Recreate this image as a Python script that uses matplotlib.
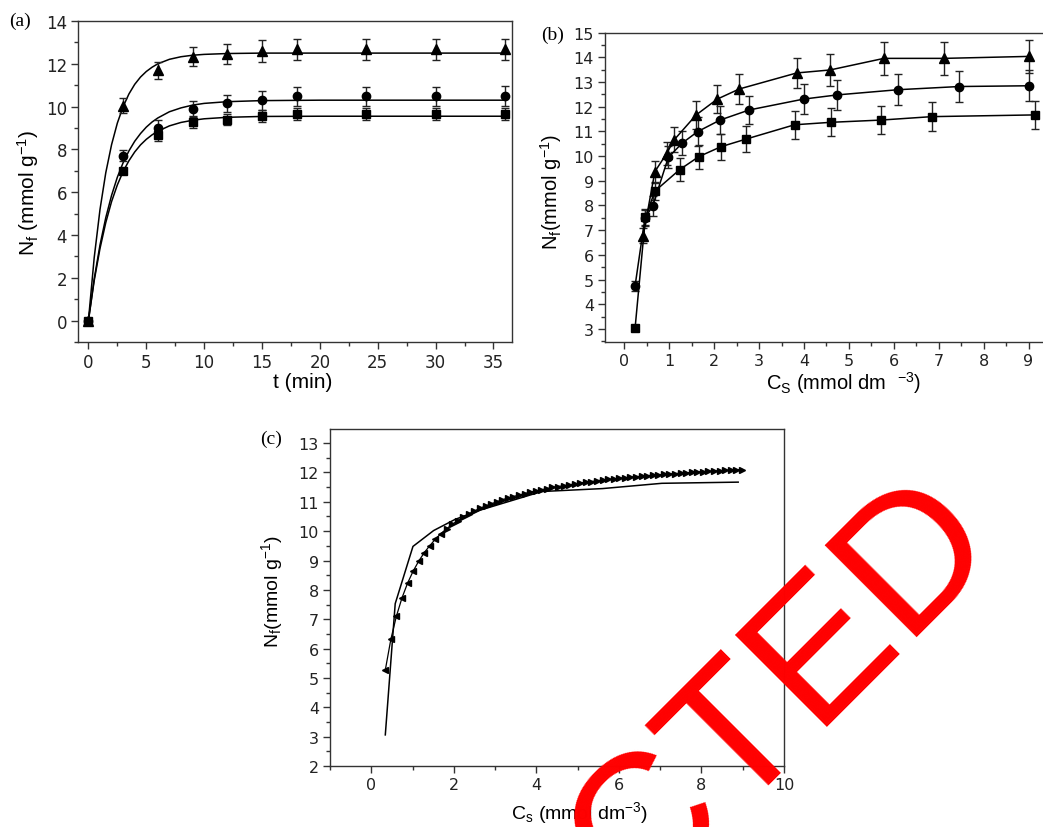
import matplotlib
matplotlib.use("Agg")
import matplotlib.pyplot as plt
from matplotlib.ticker import MultipleLocator

plt.rcParams['font.family'] = ['Liberation Sans', 'DejaVu Sans']
plt.rcParams['mathtext.fontset'] = 'custom'
plt.rcParams['mathtext.rm'] = 'Liberation Sans'
plt.rcParams['mathtext.it'] = 'Liberation Sans'
plt.rcParams['mathtext.default'] = 'regular'

# ---------------- Panel (a): kinetics ----------------
t_a = [0, 3, 6, 9, 12, 15, 18, 24, 30, 36]
tri_a = [0, 10.04, 11.70, 12.34, 12.45, 12.60, 12.68, 12.68, 12.68, 12.68]
cir_a = [0, 7.71, 9.00, 9.89, 10.15, 10.30, 10.48, 10.48, 10.48, 10.50]
sq_a = [0, 6.98, 8.65, 9.27, 9.39, 9.55, 9.65, 9.65, 9.65, 9.65]
tri_err_a = [0, 0.36, 0.40, 0.45, 0.47, 0.50, 0.48, 0.48, 0.49, 0.49]
cir_err_a = [0, 0.27, 0.39, 0.39, 0.41, 0.45, 0.45, 0.45, 0.45, 0.45]
sq_err_a = [0, 0.15, 0.24, 0.28, 0.27, 0.27, 0.27, 0.27, 0.27, 0.27]

t_fit = [0, 0.5, 1, 1.5, 2, 2.5, 3, 3.5, 4, 4.5, 5, 5.5, 6, 7, 8, 9, 10, 12, 15, 20, 36]
tri_fit = [0, 2.94, 5.19, 6.91, 8.22, 9.23, 10.00, 10.59, 11.04, 11.38, 11.64, 11.84,
           12.00, 12.21, 12.33, 12.40, 12.44, 12.48, 12.50, 12.50, 12.50]
cir_fit = [0, 1.95, 3.53, 4.81, 5.85, 6.70, 7.38, 7.93, 8.38, 8.74, 9.04, 9.28,
           9.47, 9.76, 9.94, 10.07, 10.15, 10.23, 10.28, 10.30, 10.30]
sq_fit = [0, 1.87, 3.37, 4.58, 5.56, 6.34, 6.97, 7.47, 7.88, 8.21, 8.47, 8.68,
          8.85, 9.10, 9.26, 9.36, 9.43, 9.50, 9.54, 9.55, 9.55]

# ---------------- Panel (b): isotherms ----------------
tri_b_x = [0.42, 0.68, 0.94, 1.11, 1.60, 2.07, 2.56, 3.84, 4.58, 5.78, 7.12, 9.01]
tri_b_y = [6.78, 9.37, 10.10, 10.66, 11.67, 12.31, 12.72, 13.37, 13.49, 13.96, 13.96, 14.04]
tri_b_err = [0.30, 0.42, 0.46, 0.50, 0.56, 0.57, 0.60, 0.62, 0.65, 0.68, 0.68, 0.68]
cir_b_x = [0.24, 0.46, 0.63, 0.98, 1.29, 1.63, 2.13, 2.78, 3.99, 4.74, 6.09, 7.46, 9.01]
cir_b_y = [4.75, 7.50, 7.97, 9.95, 10.53, 10.99, 11.46, 11.87, 12.31, 12.48, 12.69, 12.82, 12.85]
cir_b_err = [0.20, 0.30, 0.40, 0.45, 0.50, 0.58, 0.58, 0.58, 0.62, 0.62, 0.63, 0.63, 0.63]
sq_b_x = [0.24, 0.47, 0.68, 1.23, 1.66, 2.15, 2.71, 3.79, 4.60, 5.71, 6.85, 9.15]
sq_b_y = [3.04, 7.52, 8.58, 9.45, 9.98, 10.38, 10.69, 11.27, 11.37, 11.46, 11.60, 11.67]
sq_b_err = [0.10, 0.35, 0.35, 0.47, 0.49, 0.52, 0.54, 0.56, 0.57, 0.58, 0.58, 0.58]

# ---------------- Panel (c): experimental vs model ----------------
c_exp_x = [0.34, 0.58, 1.01, 1.51, 2.03, 2.60, 4.13, 5.60, 7.04, 8.89]
c_exp_y = [3.06, 7.53, 9.48, 10.02, 10.40, 10.70, 11.35, 11.45, 11.63, 11.67]
c_mod_x = [0.34, 0.475, 0.61, 0.745, 0.88, 1.015, 1.15, 1.285, 1.42, 1.555, 1.69, 1.825,
           1.96, 2.095, 2.23, 2.365, 2.5, 2.635, 2.77, 2.905, 3.04, 3.175, 3.31, 3.445,
           3.58, 3.715, 3.85, 3.985, 4.12, 4.255, 4.39, 4.525, 4.66, 4.795, 4.93, 5.065,
           5.2, 5.335, 5.47, 5.605, 5.74, 5.875, 6.01, 6.145, 6.28, 6.415, 6.55, 6.685,
           6.82, 6.955, 7.09, 7.225, 7.36, 7.495, 7.63, 7.765, 7.9, 8.035, 8.17, 8.305,
           8.44, 8.575, 8.71, 8.845, 8.98]
c_mod_y = [5.27, 6.32, 7.11, 7.73, 8.23, 8.64, 8.98, 9.27, 9.51, 9.73, 9.92, 10.08,
           10.23, 10.36, 10.48, 10.59, 10.69, 10.78, 10.86, 10.93, 11.00, 11.07, 11.13, 11.18,
           11.23, 11.28, 11.33, 11.37, 11.41, 11.45, 11.49, 11.52, 11.55, 11.58, 11.61, 11.64,
           11.67, 11.69, 11.72, 11.74, 11.76, 11.78, 11.80, 11.82, 11.84, 11.86, 11.87, 11.89,
           11.91, 11.92, 11.94, 11.95, 11.96, 11.98, 11.99, 12.00, 12.02, 12.03, 12.04, 12.05,
           12.06, 12.07, 12.08, 12.09, 12.10]

W, H = 1043, 828
fig = plt.figure(figsize=(W / 100, H / 100), dpi=100)


def add_axes_px(left, top, right, bottom):
    return fig.add_axes([left / W, 1 - bottom / H, (right - left) / W, (bottom - top) / H])


def ftext(x, y, s, **kw):
    fig.text(x / W, 1 - y / H, s, **kw)


def style(ax, fs):
    for side in ['left', 'bottom', 'top', 'right']:
        ax.spines[side].set_linewidth(1.0)
        ax.spines[side].set_color('#333333')
    ax.tick_params(which='both', direction='out', top=False, right=False,
                   colors='#333333', labelcolor='#222222', labelsize=fs, width=1.0,
                   labelfontfamily='DejaVu Sans')
    ax.tick_params(which='major', length=5, pad=3)
    ax.tick_params(which='minor', length=3)


ekw = dict(color='black', ecolor='#222222', elinewidth=1.0, capsize=2.6, capthick=1.0)

# ---- (a)
axa = add_axes_px(78, 22, 512, 343)
axa.plot(t_fit, tri_fit, color='black', lw=1.1)
axa.plot(t_fit, cir_fit, color='black', lw=1.1)
axa.plot(t_fit, sq_fit, color='black', lw=1.1)
axa.errorbar(t_a, tri_a, yerr=tri_err_a, fmt='^', ms=7, **ekw)
axa.errorbar(t_a, cir_a, yerr=cir_err_a, fmt='o', ms=6, **ekw)
axa.errorbar(t_a, sq_a, yerr=sq_err_a, fmt='s', ms=5.5, **ekw)
axa.set_xlim(-0.9, 36.6)
axa.set_ylim(-1, 14)
axa.xaxis.set_major_locator(MultipleLocator(5))
axa.xaxis.set_minor_locator(MultipleLocator(2.5))
axa.yaxis.set_major_locator(MultipleLocator(2))
axa.yaxis.set_minor_locator(MultipleLocator(1))
style(axa, 12)
ftext(20, 21, '(a)', family='Liberation Serif', fontsize=14, ha='center', va='center')
ftext(28, 193, r'N$_{f}$ (mmol g$^{-1}$)', fontsize=15, rotation=90, ha='center', va='center')
ftext(303, 383, 't (min)', fontsize=15, ha='center', va='center')

# ---- (b)
axb = add_axes_px(605, 33.7, 1051, 343)
axb.errorbar(tri_b_x, tri_b_y, yerr=tri_b_err, fmt='-^', ms=6.5, lw=1.1, **ekw)
axb.errorbar(cir_b_x, cir_b_y, yerr=cir_b_err, fmt='-o', ms=6, lw=1.1, **ekw)
axb.errorbar(sq_b_x, sq_b_y, yerr=sq_b_err, fmt='-s', ms=5.5, lw=1.1, **ekw)
axb.set_xlim(-0.43, 9.5)
axb.set_ylim(2.47, 15)
axb.xaxis.set_major_locator(MultipleLocator(1))
axb.xaxis.set_minor_locator(MultipleLocator(0.5))
axb.yaxis.set_major_locator(MultipleLocator(1))
axb.yaxis.set_minor_locator(MultipleLocator(0.5))
style(axb, 11.5)
ftext(553, 35, '(b)', family='Liberation Serif', fontsize=14, ha='center', va='center')
ftext(551, 192, r'N$_{f}$(mmol g$^{-1}$)', fontsize=14.5, rotation=90, ha='center', va='center')
ftext(844, 383, r'C$_{S}$ (mmol dm  $^{-3}$)', fontsize=14.5, ha='center', va='center')

# ---- (c)
axc = add_axes_px(330, 430, 784, 767)
axc.plot(c_exp_x, c_exp_y, color='black', lw=1.1)
axc.plot(c_mod_x, c_mod_y, color='black', lw=0.9)
n_left = 11
axc.plot(c_mod_x[:n_left], c_mod_y[:n_left], ls='none', marker='<', ms=4.8, color='black')
axc.plot(c_mod_x[n_left:], c_mod_y[n_left:], ls='none', marker='>', ms=4.8, color='black')
axc.set_xlim(-1, 10)
axc.set_ylim(2, 13.48)
axc.xaxis.set_major_locator(MultipleLocator(2))
axc.xaxis.set_minor_locator(MultipleLocator(1))
axc.yaxis.set_major_locator(MultipleLocator(1))
axc.yaxis.set_minor_locator(MultipleLocator(0.5))
style(axc, 11.5)
ftext(271, 439, '(c)', family='Liberation Serif', fontsize=14, ha='center', va='center')
ftext(272, 592, r'N$_{f}$(mmol g$^{-1}$)', fontsize=14, rotation=90, ha='center', va='center')
ftext(580, 813, r'C$_{s}$ (mmol dm$^{-3}$)', fontsize=14, ha='center', va='center')

# ---- watermark stamp
fig.text(588 / W, 1 - 950 / H, 'RETRACTED', color='#ff0000', fontsize=137,
         family='Liberation Sans', rotation=45, rotation_mode='anchor',
         ha='center', va='baseline', zorder=10)

fig.savefig('out.png', dpi=100)
